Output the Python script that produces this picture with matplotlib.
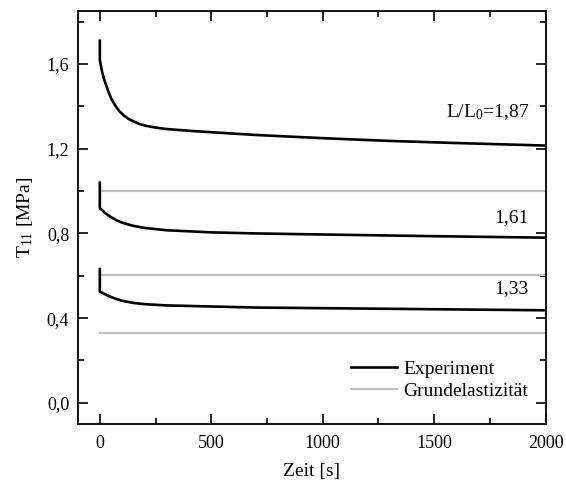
import matplotlib
matplotlib.use("Agg")
import matplotlib.pyplot as plt
from matplotlib.ticker import MultipleLocator, FuncFormatter

plt.rcParams['font.family'] = ['Liberation Serif', 'DejaVu Serif']
plt.rcParams['mathtext.fontset'] = 'custom'
plt.rcParams['mathtext.rm'] = 'Liberation Serif'
plt.rcParams['mathtext.it'] = 'Liberation Serif:italic'

t_187 = [0, 0, 5, 10, 20, 30, 40, 50, 60, 75, 90, 110, 130, 150, 175, 200, 250, 300, 400, 500, 700, 1000, 1300, 1600, 2000]
T_187 = [1.71, 1.62, 1.59, 1.565, 1.525, 1.495, 1.465, 1.44, 1.42, 1.395, 1.375, 1.355, 1.34, 1.33, 1.318, 1.31, 1.30, 1.293, 1.285, 1.278, 1.265, 1.25, 1.237, 1.227, 1.215]

t_161 = [0, 0, 10, 25, 50, 75, 100, 150, 200, 300, 500, 700, 1000, 1500, 2000]
T_161 = [1.04, 0.92, 0.91, 0.895, 0.877, 0.862, 0.851, 0.836, 0.826, 0.815, 0.805, 0.80, 0.795, 0.787, 0.78]

t_133 = [0, 0, 10, 25, 50, 75, 100, 150, 200, 300, 500, 700, 1000, 1500, 2000]
T_133 = [0.632, 0.525, 0.52, 0.512, 0.50, 0.49, 0.482, 0.472, 0.466, 0.46, 0.455, 0.45, 0.447, 0.442, 0.437]

t_base = [0, 2000]
base_levels = [1.0, 0.605, 0.33]

labels = ["L/L$_0$=1,87", "1,61", "1,33"]
label_y = [1.375, 0.875, 0.54]

fig = plt.figure(figsize=(5.66, 4.84), dpi=100)
ax = fig.add_axes([0.137, 0.124, 0.827, 0.853])

first = True
for lvl in base_levels:
    ax.plot(t_base, [lvl, lvl], color='#c0c0c0', lw=1.6,
            label='Grundelastizität' if first else None, zorder=2)
    first = False
ax.plot(t_187, T_187, color='black', lw=1.9, label='Experiment', zorder=3)
ax.plot(t_161, T_161, color='black', lw=1.9, zorder=3)
ax.plot(t_133, T_133, color='black', lw=1.9, zorder=3)

for txt, y in zip(labels, label_y):
    ax.text(1925, y, txt, ha='right', va='center', fontsize=14)

ax.set_xlim(-100, 2000)
ax.set_ylim(-0.1, 1.85)
ax.xaxis.set_major_locator(MultipleLocator(500))
ax.xaxis.set_minor_locator(MultipleLocator(250))
ax.yaxis.set_major_locator(MultipleLocator(0.4))
ax.yaxis.set_minor_locator(MultipleLocator(0.2))
ax.yaxis.set_major_formatter(FuncFormatter(lambda v, p: f"{v:.1f}".replace('.', ',')))
ax.tick_params(which='both', direction='in', top=True, right=True, labelsize=13, width=1.2)
ax.tick_params(which='major', length=7)
ax.tick_params(axis='x', which='major', pad=8)
ax.tick_params(axis='y', which='major', pad=6)
ax.tick_params(which='minor', length=4)
for s in ax.spines.values():
    s.set_linewidth(1.3)

ax.set_xlabel('Zeit [s]', fontsize=14, labelpad=8)
ax.set_ylabel('T$_{11}$ [MPa]', fontsize=14, labelpad=8)

h, l = ax.get_legend_handles_labels()
order = [l.index('Experiment'), l.index('Grundelastizität')]
ax.legend([h[i] for i in order], [l[i] for i in order], loc='lower right',
          bbox_to_anchor=(1.0, 0.015), frameon=False, fontsize=14,
          handlelength=2.4, handletextpad=0.3, labelspacing=0.25)

fig.savefig('out.png', dpi=100)
